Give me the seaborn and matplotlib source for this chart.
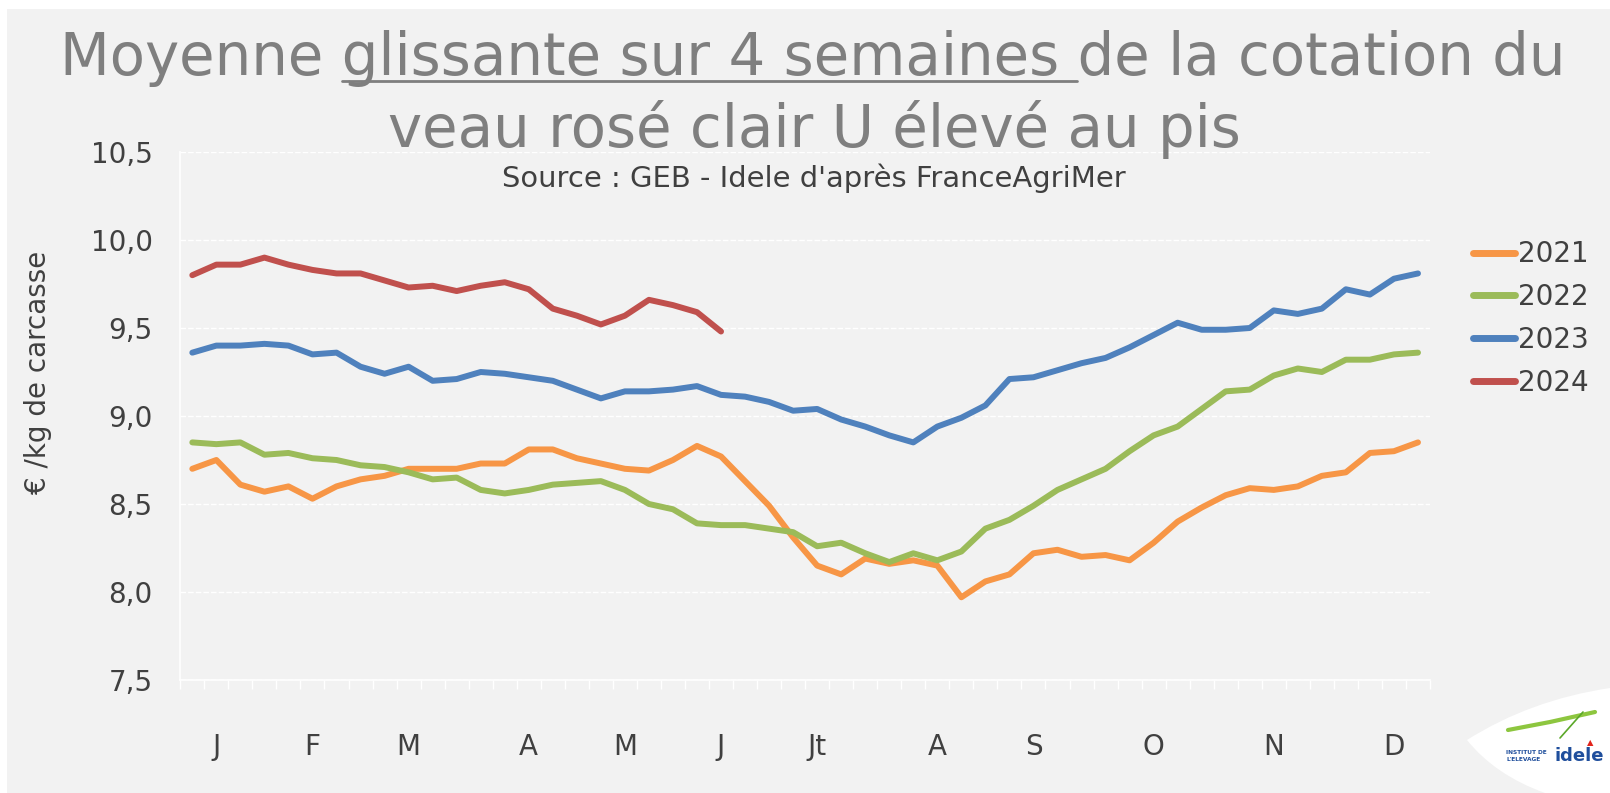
import numpy as np
import pandas as pd
import matplotlib
matplotlib.use("Agg")
import matplotlib.pyplot as plt
import seaborn as sns
from matplotlib.patches import Rectangle, PathPatch
from matplotlib.path import Path
from matplotlib.lines import Line2D
from matplotlib.ticker import FixedLocator, FuncFormatter

# ---------------- data ----------------
weeks = list(range(1, 53))
years = ["2021", "2022", "2023", "2024"]
v2021 = [8.70, 8.75, 8.61, 8.57, 8.60, 8.53, 8.60, 8.64, 8.66, 8.70, 8.70, 8.70,
         8.73, 8.73, 8.81, 8.81, 8.76, 8.73, 8.70, 8.69, 8.75, 8.83, 8.77, 8.63,
         8.49, 8.31, 8.15, 8.10, 8.19, 8.16, 8.18, 8.15, 7.97, 8.06, 8.10, 8.22,
         8.24, 8.20, 8.21, 8.18, 8.28, 8.40, 8.48, 8.55, 8.59, 8.58, 8.60, 8.66,
         8.68, 8.79, 8.80, 8.85]
v2022 = [8.85, 8.84, 8.85, 8.78, 8.79, 8.76, 8.75, 8.72, 8.71, 8.68, 8.64, 8.65,
         8.58, 8.56, 8.58, 8.61, 8.62, 8.63, 8.58, 8.50, 8.47, 8.39, 8.38, 8.38,
         8.36, 8.34, 8.26, 8.28, 8.22, 8.17, 8.22, 8.18, 8.23, 8.36, 8.41, 8.49,
         8.58, 8.64, 8.70, 8.80, 8.89, 8.94, 9.04, 9.14, 9.15, 9.23, 9.27, 9.25,
         9.32, 9.32, 9.35, 9.36]
v2023 = [9.36, 9.40, 9.40, 9.41, 9.40, 9.35, 9.36, 9.28, 9.24, 9.28, 9.20, 9.21,
         9.25, 9.24, 9.22, 9.20, 9.15, 9.10, 9.14, 9.14, 9.15, 9.17, 9.12, 9.11,
         9.08, 9.03, 9.04, 8.98, 8.94, 8.89, 8.85, 8.94, 8.99, 9.06, 9.21, 9.22,
         9.26, 9.30, 9.33, 9.39, 9.46, 9.53, 9.49, 9.49, 9.50, 9.60, 9.58, 9.61,
         9.72, 9.69, 9.78, 9.81]
v2024 = [9.80, 9.86, 9.86, 9.90, 9.86, 9.83, 9.81, 9.81, 9.77, 9.73, 9.74, 9.71,
         9.74, 9.76, 9.72, 9.61, 9.57, 9.52, 9.57, 9.66, 9.63, 9.59, 9.48]
month_labels = ["J", "F", "M", "A", "M", "J", "Jt", "A", "S", "O", "N", "D"]
month_weeks = [2, 6, 10, 15, 19, 23, 27, 32, 36, 41, 46, 51]
y_ticks = [7.5, 8.0, 8.5, 9.0, 9.5, 10.0, 10.5]

title_line1 = "Moyenne glissante sur 4 semaines de la cotation du"
title_under = "glissante sur 4 semaines "
title_line2 = "veau rosé clair U élevé au pis"
subtitle = "Source : GEB - Idele d'après FranceAgriMer"
y_label = "€ /kg de carcasse"

series = {"2021": v2021, "2022": v2022, "2023": v2023, "2024": v2024}
df = pd.concat(
    [pd.DataFrame({"week": weeks[:len(v)], "value": v, "year": y}) for y, v in series.items()],
    ignore_index=True,
)

# ---------------- style ----------------
W, H, DPI = 1610, 793, 100
sns.set_theme(style="white")
FONT = "DejaVu Sans"
plt.rcParams["font.family"] = [FONT]
TXT = "#404040"
TITLE_C = "#7F7F7F"
BG = "#F2F2F2"
palette = {"2021": "#F79646", "2022": "#9BBB59", "2023": "#4F81BD", "2024": "#C0504D"}


def fx(px):
    return px / W


def fy(py):
    return 1 - py / H


fig = plt.figure(figsize=(W / DPI, H / DPI), dpi=DPI, facecolor="white")
fig.patches.append(Rectangle((fx(7), 0), 1 - fx(7), fy(9), transform=fig.transFigure,
                             facecolor=BG, edgecolor="none", zorder=-10))

ax = fig.add_axes([fx(180.3), fy(680), fx(1430) - fx(180.3), fy(152) - fy(680)])
ax.set_facecolor("none")

sns.lineplot(data=df, x="week", y="value", hue="year", hue_order=years, palette=palette,
             linewidth=4.3, ax=ax, solid_capstyle="round", solid_joinstyle="round",
             legend=True)

ax.set_xlim(0.5, 52.5)
ax.set_ylim(7.5, 10.5)
ax.set_xlabel("")
ax.set_ylabel(y_label, fontsize=20, color=TXT)
ax.yaxis.set_label_coords(-0.1027, 0.583)

ax.yaxis.set_major_locator(FixedLocator(y_ticks))
ax.yaxis.set_major_formatter(FuncFormatter(lambda v, p: f"{v:.1f}".replace(".", ",")))
ax.tick_params(axis="y", length=0, pad=20, labelsize=20, labelcolor=TXT)

ax.set_xticks(month_weeks)
ax.set_xticklabels(month_labels)
ax.set_xticks([w + 0.5 for w in [0] + weeks], minor=True)
ax.tick_params(axis="x", which="both", bottom=True)
ax.tick_params(axis="x", which="major", length=0, pad=38, labelsize=20, labelcolor=TXT)
ax.tick_params(axis="x", which="minor", length=6.5, width=1, color="white", direction="out")

ax.yaxis.grid(True, color="white", linewidth=1.0, linestyle=(0, (4, 1.5)))
ax.xaxis.grid(False)
for s in ["top", "right"]:
    ax.spines[s].set_visible(False)
for s in ["left", "bottom"]:
    ax.spines[s].set_color("white")
    ax.spines[s].set_linewidth(1.2)

# legend
handles, labels = ax.get_legend_handles_labels()
leg = ax.legend(handles, labels, loc="center left", bbox_to_anchor=(fx(1462), fy(318.5)),
                bbox_transform=fig.transFigure, frameon=False, fontsize=20,
                handlelength=1.5, handletextpad=0.1, labelspacing=0.53,
                borderaxespad=0, borderpad=0.4)
for ln in leg.get_lines():
    ln.set_linewidth(5)
    ln.set_solid_capstyle("round")
for t in leg.get_texts():
    t.set_color(TXT)

# ---------------- titles ----------------
renderer = fig.canvas.get_renderer()


def text_w(s, size, **kw):
    t = fig.text(0, 0, s, fontsize=size, **kw)
    w = t.get_window_extent(renderer).width
    t.remove()
    return w


def fit_text(s, target_w, x_center, baseline_y, color, base=40, **kw):
    t = fig.text(fx(x_center), fy(baseline_y), s, ha="center", va="baseline",
                 fontsize=base, color=color, **kw)
    w = t.get_window_extent(renderer).width
    t.set_fontsize(base * target_w / w)
    return t


t1 = fit_text(title_line1, 1503, 812.5, 75, TITLE_C)
size1 = t1.get_fontsize()
t2 = fig.text(fx(814.5), fy(146.7), title_line2, ha="center", va="baseline",
              fontsize=size1, color=TITLE_C)
fit_text(subtitle, 624, 814, 187, TXT, base=20)

# underline
bb = t1.get_window_extent(renderer)
pre = title_line1.split(title_under)[0]
w_pre = text_w(pre + "d", size1) - text_w("d", size1)
w_end = text_w(pre + title_under + "d", size1) - text_w("d", size1)
x0 = bb.x0 + w_pre
x1 = bb.x0 + w_end
fig.add_artist(Line2D([x0 / W, x1 / W], [fy(81), fy(81)], transform=fig.transFigure,
                      color=TITLE_C, linewidth=2.0))

# ---------------- logo ----------------
def P(x, y):
    return (fx(x), fy(y))

verts = [P(1467, 740), P(1530, 700), P(1610, 688), P(1610, 793), P(1545, 793),
         P(1495, 775), P(1467, 740), P(1467, 740)]
codes = [Path.MOVETO, Path.CURVE3, Path.CURVE3, Path.LINETO, Path.LINETO,
         Path.CURVE3, Path.CURVE3, Path.CLOSEPOLY]
fig.patches.append(PathPatch(Path(verts, codes), transform=fig.transFigure,
                             facecolor="white", edgecolor="none", zorder=-5))
fig.add_artist(Line2D([fx(1508), fx(1550), fx(1595)], [fy(730), fy(722), fy(712)],
                      transform=fig.transFigure, color="#8DC63F", linewidth=3,
                      solid_capstyle="round"))
fig.add_artist(Line2D([fx(1560), fx(1583)], [fy(738), fy(712)],
                      transform=fig.transFigure, color="#5BA829", linewidth=1.2))
fig.text(fx(1590), fy(745), "▲", fontsize=6, color="#E2231A", ha="center", va="baseline")
fig.text(fx(1506), fy(754), "INSTITUT DE", fontsize=4.2, color="#1F4E9C",
         fontweight="bold", ha="left", va="baseline")
fig.text(fx(1506), fy(761), "L'ELEVAGE", fontsize=4.2, color="#1F4E9C",
         fontweight="bold", ha="left", va="baseline")
fig.text(fx(1554), fy(761), "idele", fontsize=13, color="#1F4E9C",
         fontweight="bold", ha="left", va="baseline")

fig.savefig("out.png", dpi=DPI, facecolor=fig.get_facecolor())
